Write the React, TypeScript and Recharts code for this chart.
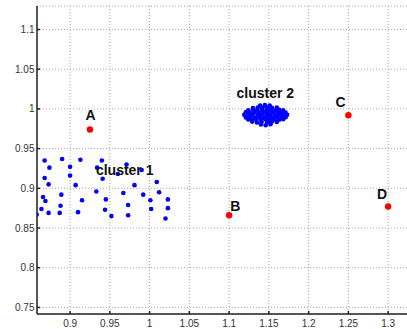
import React from "react"
import {
  ScatterChart,
  Scatter,
  XAxis,
  YAxis,
  CartesianGrid,
} from "recharts"

const xTicks = [0.9, 0.95, 1, 1.05, 1.1, 1.15, 1.2, 1.25, 1.3]
const yTicks = [0.75, 0.8, 0.85, 0.9, 0.95, 1, 1.05, 1.1]

// cluster 1: sparse points, bottom left
const cluster1 = [
  [0.868, 0.935], [0.874, 0.926], [0.890, 0.937], [0.900, 0.927],
  [0.913, 0.936], [0.940, 0.935], [0.934, 0.926], [0.971, 0.930],
  [0.868, 0.913], [0.900, 0.916], [0.960, 0.918], [0.990, 0.923],
  [0.873, 0.905], [0.907, 0.904], [0.941, 0.912], [0.981, 0.904],
  [1.009, 0.908], [0.866, 0.889], [0.889, 0.892], [0.933, 0.896],
  [0.967, 0.894], [0.992, 0.892], [1.012, 0.895], [0.869, 0.884],
  [0.915, 0.885], [0.945, 0.886], [0.973, 0.879], [1.001, 0.885],
  [1.023, 0.886], [0.864, 0.874], [0.888, 0.878], [1.002, 0.874],
  [1.023, 0.875], [0.858, 0.867], [0.873, 0.869], [0.887, 0.869],
  [0.910, 0.870], [0.944, 0.873], [0.952, 0.865], [0.973, 0.866],
  [1.020, 0.862],
]

// cluster 2: dense blob
const cluster2 = [
  [1.140, 0.9805], [1.146, 0.9795], [1.152, 0.9808],
  [1.129, 0.9840], [1.135, 0.9830], [1.141, 0.9838], [1.148, 0.9832], [1.154, 0.9841], [1.160, 0.9836],
  [1.124, 0.9868], [1.129, 0.9861], [1.134, 0.9870], [1.140, 0.9863], [1.146, 0.9868], [1.151, 0.9860],
  [1.157, 0.9869], [1.163, 0.9864], [1.168, 0.9870],
  [1.121, 0.9893], [1.127, 0.9899], [1.132, 0.9891], [1.138, 0.9897], [1.143, 0.9890], [1.149, 0.9899],
  [1.154, 0.9893], [1.160, 0.9898], [1.165, 0.9891], [1.171, 0.9896],
  [1.119, 0.9927], [1.124, 0.9921], [1.130, 0.9929], [1.136, 0.9922], [1.141, 0.9928], [1.147, 0.9920],
  [1.152, 0.9927], [1.158, 0.9923], [1.163, 0.9929], [1.168, 0.9922], [1.173, 0.9926],
  [1.121, 0.9957], [1.126, 0.9951], [1.132, 0.9958], [1.138, 0.9953], [1.144, 0.9959], [1.149, 0.9952],
  [1.155, 0.9957], [1.161, 0.9951], [1.166, 0.9958], [1.171, 0.9954],
  [1.124, 0.9983], [1.130, 0.9989], [1.135, 0.9982], [1.141, 0.9988], [1.147, 0.9981], [1.152, 0.9987],
  [1.158, 0.9983], [1.163, 0.9989], [1.168, 0.9984],
  [1.130, 1.0012], [1.136, 1.0018], [1.142, 1.0011], [1.148, 1.0017], [1.154, 1.0013], [1.160, 1.0016],
  [1.139, 1.0042], [1.145, 1.0047], [1.151, 1.0043],
]

const outliers = [
  [0.925, 0.974], [1.1, 0.866], [1.25, 0.992], [1.3, 0.877],
]

const labels = [
  { x: 0.9258, y: 0.986, text: "A" },
  { x: 1.1078, y: 0.872, text: "B" },
  { x: 1.2403, y: 1.0021, text: "C" },
  { x: 1.2923, y: 0.887, text: "D" },
  { x: 0.9687, y: 0.917, text: "cluster 1" },
  { x: 1.1456, y: 1.0134, text: "cluster 2" },
]

const toPoints = (arr: number[][]) => arr.map(([x, y]) => ({ x, y }))

const font = "'Liberation Sans', Arial, sans-serif"
const tickStyle = { fontSize: 10, fill: "#333", fontFamily: font }

const dot = (r: number, fill: string) => (p: any) =>
  <circle cx={p.cx} cy={p.cy} r={r} fill={fill} />

export default function App() {
  return (
    <div
      style={{
        position: "absolute",
        left: 0,
        top: 0,
        width: 407,
        height: 329,
        overflow: "hidden",
        background: "#fff",
      }}
    >
      <ScatterChart
        width={412}
        height={329}
        margin={{ top: 6, right: 0, bottom: 0, left: 0 }}
      >
        <CartesianGrid stroke="#aaa" strokeDasharray="1 2" />
        <XAxis
          type="number"
          dataKey="x"
          domain={[0.8584, 1.33]}
          ticks={xTicks}
          allowDataOverflow
          height={15}
          tickSize={-3}
          tickMargin={9}
          tick={tickStyle}
          stroke="#222"
          strokeWidth={1.5}
        />
        <XAxis
          xAxisId="top"
          orientation="top"
          type="number"
          dataKey="x"
          domain={[0.8584, 1.33]}
          ticks={xTicks}
          allowDataOverflow
          height={0}
          tickSize={-3}
          tick={false}
          stroke="#222"
          strokeWidth={1.5}
        />
        <YAxis
          type="number"
          dataKey="y"
          domain={[0.7417, 1.1296]}
          ticks={yTicks}
          allowDataOverflow
          width={37}
          tickSize={-3}
          tickMargin={5.5}
          tick={tickStyle}
          stroke="#222"
          strokeWidth={1.5}
        />
        <Scatter
          data={toPoints(cluster1)}
          shape={dot(2.3, "#0000ff")}
          isAnimationActive={false}
        />
        <Scatter
          data={toPoints(cluster2)}
          shape={dot(2.3, "#0000ff")}
          isAnimationActive={false}
        />
        <Scatter
          data={toPoints(outliers)}
          shape={dot(3.2, "#ff0000")}
          isAnimationActive={false}
        />
        <Scatter
          data={labels}
          isAnimationActive={false}
          shape={(p: any) => (
            <text
              x={p.cx}
              y={p.cy}
              textAnchor="middle"
              fontSize={14}
              fontWeight="bold"
              fontFamily={font}
              fill="#111"
            >
              {p.payload.text}
            </text>
          )}
        />
      </ScatterChart>
    </div>
  )
}
